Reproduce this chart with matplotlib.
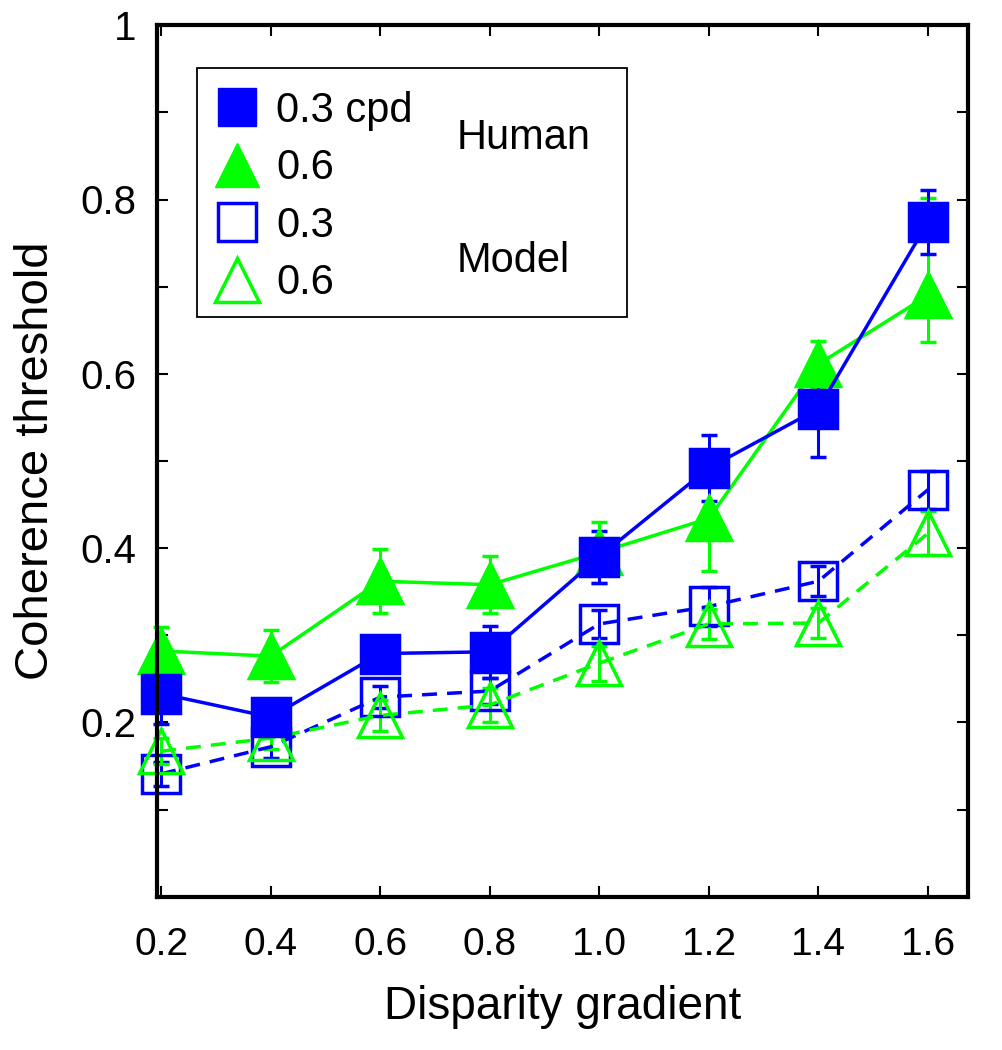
import matplotlib
matplotlib.use("Agg")
import matplotlib.pyplot as plt
from matplotlib.lines import Line2D
from matplotlib.patches import Rectangle

plt.rcParams["font.family"] = ["Liberation Sans", "DejaVu Sans"]

BLUE = "#0000FF"
GREEN = "#00FF00"

disparity = [0.2, 0.4, 0.6, 0.8, 1.0, 1.2, 1.4, 1.6]

human_03 = [0.233, 0.206, 0.279, 0.281, 0.390, 0.492, 0.560, 0.774]
human_03_err = [0.035, 0.02, 0.02, 0.03, 0.03, 0.038, 0.055, 0.037]

human_06 = [0.282, 0.276, 0.362, 0.358, 0.395, 0.434, 0.611, 0.690]
human_06_lo = [0.028, 0.03, 0.037, 0.033, 0.035, 0.06, 0.027, 0.054]
human_06_hi = [0.028, 0.03, 0.037, 0.033, 0.035, 0.06, 0.027, 0.112]

model_03 = [0.141, 0.172, 0.229, 0.236, 0.313, 0.333, 0.362, 0.467]
model_03_err = [0.014, 0.013, 0.013, 0.015, 0.016, 0.022, 0.017, 0.022]

model_06 = [0.167, 0.182, 0.208, 0.220, 0.268, 0.313, 0.314, 0.417]
model_06_err = [0.015, 0.012, 0.018, 0.02, 0.02, 0.017, 0.017, 0.025]

yticks = [0.1, 0.2, 0.3, 0.4, 0.5, 0.6, 0.7, 0.8, 0.9, 1.0]
ytick_labels = ["", "0.2", "", "0.4", "", "0.6", "", "0.8", "", "1"]
xtick_labels = ["0.2", "0.4", "0.6", "0.8", "1.0", "1.2", "1.4", "1.6"]

fig = plt.figure(figsize=(10.02, 10.5), dpi=100)
ax = fig.add_axes([0.157, 0.146, 0.809, 0.830])

lw = 2.5
common = dict(capsize=5.5, elinewidth=2.2, capthick=2.2, linewidth=lw)


def draw(y, err, color, ls, marker, ms, filled):
    face = color if filled else "none"
    line, caps, bars = ax.errorbar(disparity, y, yerr=err, color=color, ls=ls,
                                   marker=marker, ms=ms, mfc=face, mec=color,
                                   mew=2.5, **common)
    # markers are not cut at the frame, as in the original figure
    line.set_clip_on(False)
    for c in caps:
        c.set_clip_on(False)
    for b in bars:
        b.set_clip_on(False)


dash = (0, (4.3, 2.9))
# model (dashed, open markers)
draw(model_03, model_03_err, BLUE, dash, "s", 28, False)
draw(model_06, model_06_err, GREEN, dash, "^", 32, False)
# human (solid, filled markers)
draw(human_06, [human_06_lo, human_06_hi], GREEN, "-", "^", 32, True)
draw(human_03, human_03_err, BLUE, "-", "s", 28, True)

ax.set_xlim(0.193, 1.673)
ax.set_ylim(0, 1)
ax.set_xticks(disparity)
ax.set_xticklabels(xtick_labels)
ax.set_yticks(yticks)
ax.set_yticklabels(ytick_labels)
ax.tick_params(axis="x", direction="in", length=8, width=1.5, top=True,
               labelsize=28, pad=22)
ax.tick_params(axis="y", direction="in", length=8, width=1.5, right=True,
               labelsize=29, pad=15)
for s in ax.spines.values():
    s.set_linewidth(3)
    s.set_zorder(10)

ax.set_xlabel("Disparity gradient", fontsize=33, labelpad=16)
ax.set_ylabel("Coherence threshold", fontsize=34, labelpad=16)

# legend box drawn by hand so it can hold the Human / Model notes
ax.add_patch(Rectangle((0.049, 0.665), 0.531, 0.286, transform=ax.transAxes,
                       fill=False, edgecolor="black", linewidth=1.3, zorder=5))
handles = [
    Line2D([], [], ls="none", marker="s", ms=28, mfc=BLUE, mec=BLUE),
    Line2D([], [], ls="none", marker="^", ms=32, mfc=GREEN, mec=GREEN),
    Line2D([], [], ls="none", marker="s", ms=28, mfc="white", mec=BLUE, mew=2.5),
    Line2D([], [], ls="none", marker="^", ms=32, mfc="white", mec=GREEN, mew=2.5),
]
ax.legend(handles, ["0.3 cpd", "0.6", "0.3", "0.6"], loc="upper left",
          bbox_to_anchor=(0.031, 0.963), frameon=False, fontsize=30,
          handlelength=1.0, handletextpad=0.45, labelspacing=0.42, borderpad=0.3)
ax.text(0.369, 0.870, "Human", transform=ax.transAxes, fontsize=30, va="center")
ax.text(0.369, 0.73, "Model", transform=ax.transAxes, fontsize=30, va="center")

fig.savefig("out.png", dpi=100)
plt.close(fig)
